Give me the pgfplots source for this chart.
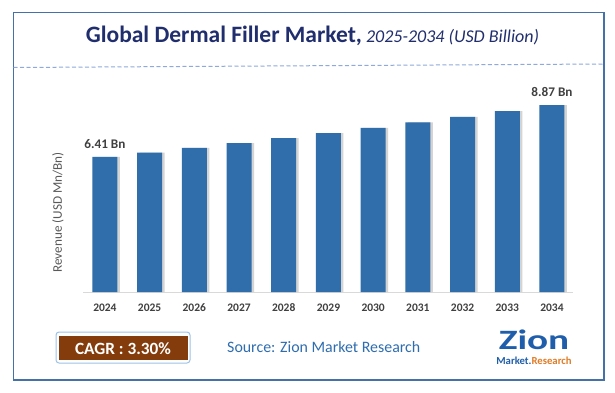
\documentclass[border=0pt]{standalone}
\usepackage{pgfplots}
\pgfplotsset{compat=1.18}
\usepackage{fontspec}
\setmainfont{Carlito}
\definecolor{barblue}{HTML}{2F6EAA}
\definecolor{framecol}{HTML}{4472A8}
\definecolor{titlecol}{HTML}{202E6E}
\definecolor{dashcol}{HTML}{8EAADB}
\definecolor{tickcol}{HTML}{404040}
\definecolor{ylabcol}{HTML}{595959}
\definecolor{basecol}{HTML}{D9D9D9}
\definecolor{shadowcol}{HTML}{D4D4D4}
\definecolor{boxline}{HTML}{9DC3E6}
\definecolor{cagrbrown}{HTML}{843C0C}
\definecolor{sourcecol}{HTML}{2E6DB0}
\definecolor{logoblue}{HTML}{1F5EAA}
\definecolor{logoorange}{HTML}{E07B26}
\begin{document}
\begin{tikzpicture}
\useasboundingbox (0pt,0pt) rectangle (615pt,392pt);
\fill[white] (0pt,0pt) rectangle (615pt,392pt);
\begin{axis}[
  at={(83pt,100pt)}, anchor=south west, scale only axis,
  width=490pt, height=210.7pt,
  xmin=-0.49, xmax=10.47, ymin=0, ymax=10,
  axis x line*=bottom, axis y line=none,
  x axis line style={draw=basecol, line width=1pt, -},
  xtick={0,...,10},
  xticklabels={2024,2025,2026,2027,2028,2029,2030,2031,2032,2033,2034},
  major tick length=0pt,
  xticklabel style={font=\fontsize{11.5}{13}\selectfont\bfseries, text=tickcol, anchor=base, yshift=-19pt},
  ybar,
]
\addplot[fill=shadowcol, draw=none, bar width=25pt, bar shift=2.5pt, forget plot]
  coordinates {(0,6.41) (1,6.62) (2,6.84) (3,7.07) (4,7.30) (5,7.54) (6,7.79) (7,8.05) (8,8.31) (9,8.59) (10,8.87)};
\addplot[fill=barblue, draw=none, bar width=25pt, bar shift=0pt,
  nodes near coords, point meta=explicit symbolic,
  every node near coord/.append style={anchor=base, yshift=8.7pt, text=tickcol, font=\fontsize{13.2}{15}\selectfont\bfseries}]
  coordinates {(0,6.41) [6.41 Bn] (1,6.62) [] (2,6.84) [] (3,7.07) [] (4,7.30) [] (5,7.54) [] (6,7.79) [] (7,8.05) [] (8,8.31) [] (9,8.59) [] (10,8.87) [8.87 Bn]};
\end{axis}
\begin{scope}[x=1pt,y=1pt]
\draw[framecol, line width=1.3pt] (13.5,379.3) rectangle (604,12);
\node[anchor=base, text=titlecol, inner sep=0] at (312.5,349) {\fontsize{23.5}{28}\selectfont\bfseries Global Dermal Filler Market,\fontsize{18}{22}\selectfont\mdseries\itshape\ 2025-2034 (USD Billion)};
\draw[dashcol, line width=1pt, dash pattern=on 4pt off 2.5pt] (13.5,324.5) -- (604,328);
\node[rotate=90, text=ylabcol, font=\fontsize{13.2}{15}\selectfont] at (58,179.5) {Revenue (USD Mn/Bn)};
\draw[boxline, line width=1pt, rounded corners=3pt] (56,60) rectangle (190,29);
\fill[cagrbrown] (58.5,56.5) rectangle (187.5,32);
\node[anchor=base, text=white, font=\fontsize{17.2}{20}\selectfont\bfseries, inner sep=0] at (123,37.7) {CAGR : 3.30\%};
\node[anchor=base west, text=sourcecol, font=\fontsize{15.9}{18}\selectfont, inner sep=0] at (227,39.3) {Source: Zion Market Research};
\node[anchor=base, text=logoblue, font=\fontsize{28}{30}\selectfont\bfseries, inner sep=0, xscale=1.4] at (534,42.5) {Zion};
\node[anchor=base, font=\fontsize{10.7}{12}\selectfont\bfseries, inner sep=0] at (534,28) {\textcolor{logoblue}{Market.}\textcolor{logoorange}{Research}};
\end{scope}
\end{tikzpicture}
\end{document}
